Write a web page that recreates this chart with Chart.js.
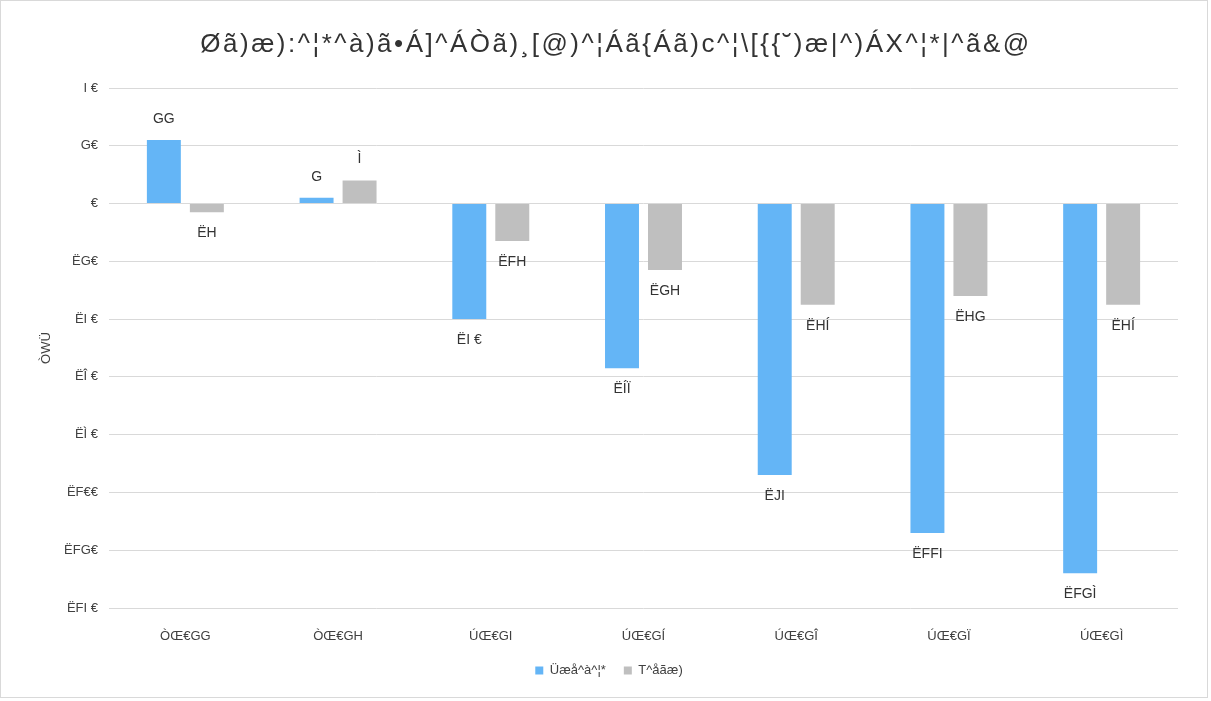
<!DOCTYPE html>
<html><head><meta charset="utf-8">
<script src="https://cdn.jsdelivr.net/npm/chart.js@4/dist/chart.umd.min.js"></script>
<style>html,body{margin:0;padding:0;background:#fff;} #wrap{width:1211px;height:701px;position:relative;}</style>
</head><body><div id="wrap"><canvas id="c" width="1211" height="701"></canvas></div>
<script>
const titleText = "Øã)æ):^¦*^à)ã•Á]^ÁÒã)¸[@)^¦Áã{Áã)c^¦\\[{{˘)æ|^)ÁX^¦*|^ã&@";
const yAxisTitle = "ÒWÜ";
const categories = ["ÒŒ€GG","ÒŒ€GH","ÚŒ€GI","ÚŒ€GÍ","ÚŒ€GÎ","ÚŒ€GÏ","ÚŒ€GÌ"];
const seriesNames = ["Üæå^à^¦*","T^åãæ)"];
const radebergValues = [22, 2, -40, -57, -94, -114, -128];
const medianValues = [-3, 8, -13, -23, -35, -32, -35];
const radebergLabels = ["GG","G","ËI €","ËÍÏ","ËJI","ËFFI","ËFGÌ"];
const medianLabels = ["ËH","Ì","ËFH","ËGH","ËHÍ","ËHG","ËHÍ"];
const yTickValues = [40, 20, 0, -20, -40, -60, -80, -100, -120, -140];
const yTickLabels = ["I €","G€","€","ËG€","ËI €","ËÎ €","ËÌ €","ËF€€","ËFG€","ËFI €"];

const FONT = '"Liberation Sans", Arial, sans-serif';

const bgPlugin = {
  id: 'bg',
  beforeDraw(chart) {
    const ctx = chart.ctx;
    ctx.save();
    ctx.fillStyle = '#ffffff';
    ctx.fillRect(0, 0, chart.width, chart.height);
    ctx.strokeStyle = '#d9d9d9';
    ctx.lineWidth = 1;
    ctx.strokeRect(0.5, 0.5, 1207, 697);
    ctx.restore();
  }
};

const legendShift = {
  id: 'legendShift',
  afterLayout(chart) {
    if (chart.legend) { chart.legend.left += 20; chart.legend.right += 20; }
  }
};

const titlePlugin = {
  id: 'spacedTitle',
  afterDraw(chart) {
    const ctx = chart.ctx;
    ctx.save();
    ctx.font = '26px ' + FONT;
    if ('letterSpacing' in ctx) ctx.letterSpacing = '2.5px';
    ctx.fillStyle = '#333333';
    ctx.textAlign = 'center';
    ctx.textBaseline = 'middle';
    ctx.fillText(titleText, 616, 45);
    ctx.restore();
  }
};

const valueLabels = {
  id: 'valueLabels',
  afterDatasetsDraw(chart) {
    const ctx = chart.ctx;
    const sets = [radebergLabels, medianLabels];
    ctx.save();
    ctx.font = '14px ' + FONT;
    ctx.fillStyle = '#333333';
    ctx.textAlign = 'center';
    ctx.textBaseline = 'middle';
    chart.data.datasets.forEach((ds, di) => {
      const meta = chart.getDatasetMeta(di);
      meta.data.forEach((bar, i) => {
        const v = ds.data[i];
        const y = v >= 0 ? bar.y - 21 : bar.y + 21;
        ctx.fillText(sets[di][i], bar.x, y);
      });
    });
    ctx.restore();
  }
};

new Chart(document.getElementById('c'), {
  type: 'bar',
  data: {
    labels: categories,
    datasets: [
      { label: seriesNames[0], data: radebergValues, backgroundColor: '#64b5f6', categoryPercentage: 0.563, barPercentage: 0.79 },
      { label: seriesNames[1], data: medianValues, backgroundColor: '#bfbfbf', categoryPercentage: 0.563, barPercentage: 0.79 }
    ]
  },
  options: {
    responsive: false,
    devicePixelRatio: 1,
    animation: false,
    layout: { padding: { left: 0, right: 33, top: 88, bottom: 14 } },
    plugins: {
      title: { display: false },
      legend: {
        position: 'bottom',
        labels: {
          boxWidth: 8, boxHeight: 8, padding: 18,
          color: '#404040',
          font: { family: FONT, size: 13 }
        }
      },
      tooltip: { enabled: false }
    },
    scales: {
      x: {
        grid: { display: false },
        border: { display: false },
        ticks: { color: '#404040', font: { family: FONT, size: 13 }, padding: 13 },
        afterFit(scale) { scale.height = 38; }
      },
      y: {
        min: -140, max: 40,
        grid: { color: '#d9d9d9', lineWidth: 1, drawTicks: false },
        border: { display: false },
        ticks: {
          stepSize: 20,
          color: '#404040',
          font: { family: FONT, size: 13 },
          padding: 11,
          callback: (v) => { const k = yTickValues.indexOf(v); return k >= 0 ? yTickLabels[k] : ''; }
        },
        title: {
          display: true, text: yAxisTitle, color: '#404040',
          font: { family: FONT, size: 13 },
          padding: { top: 39, bottom: 0 }
        },
        afterFit(scale) { scale.width = 109; }
      }
    }
  },
  plugins: [bgPlugin, legendShift, valueLabels, titlePlugin]
});
</script>
</body></html>
